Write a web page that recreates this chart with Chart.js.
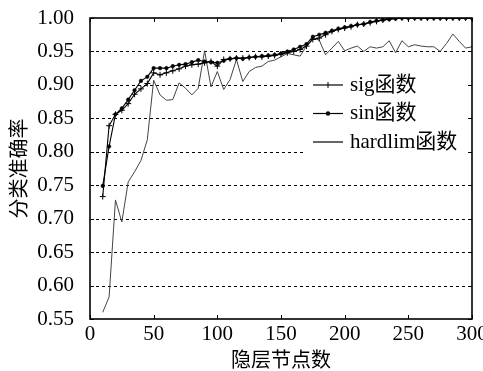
<!DOCTYPE html>
<html>
<head>
<meta charset="utf-8">
<script src="https://cdn.jsdelivr.net/npm/chart.js@4.4.0/dist/chart.umd.min.js"></script>
<style>
  html, body { margin: 0; padding: 0; background: #fff; }
</style>
</head>
<body>
<canvas id="chart" width="483" height="371"></canvas>
<script>
// hidden layer node counts
const nodes = [10, 15, 20, 25, 30, 35, 40, 45, 50, 55, 60, 65, 70, 75, 80, 85, 90, 95, 100,
  105, 110, 115, 120, 125, 130, 135, 140, 145, 150, 155, 160, 165, 170, 175, 180, 185, 190, 195, 200,
  205, 210, 215, 220, 225, 230, 235, 240, 245, 250, 255, 260, 265, 270, 275, 280, 285, 290, 295, 300];

const sigAcc = [0.733, 0.839, 0.856, 0.862, 0.872, 0.886, 0.894, 0.902, 0.918, 0.915, 0.918, 0.921, 0.924, 0.928, 0.930, 0.931, 0.933, 0.935, 0.928,
  0.938, 0.939, 0.940, 0.940, 0.941, 0.942, 0.942, 0.943, 0.944, 0.946, 0.948, 0.950, 0.953, 0.958, 0.968, 0.970, 0.975, 0.980, 0.983, 0.985,
  0.987, 0.990, 0.991, 0.993, 0.995, 0.997, 0.999, 1.000, 1.000, 1.000, 1.000, 1.000, 1.000, 1.000, 1.000, 1.000, 1.000, 1.000, 1.000, 1.000];

const sinAcc = [0.749, 0.808, 0.856, 0.865, 0.878, 0.892, 0.906, 0.912, 0.925, 0.925, 0.925, 0.928, 0.930, 0.931, 0.934, 0.937, 0.935, 0.934, 0.933,
  0.936, 0.939, 0.940, 0.939, 0.941, 0.942, 0.943, 0.944, 0.945, 0.947, 0.950, 0.953, 0.957, 0.961, 0.972, 0.975, 0.978, 0.981, 0.984, 0.986,
  0.988, 0.990, 0.991, 0.994, 0.996, 0.997, 0.998, 0.999, 1.000, 1.000, 1.000, 1.000, 1.000, 1.000, 1.000, 1.000, 1.000, 1.000, 1.000, 1.000];

const hardlimAcc = [0.560, 0.583, 0.728, 0.695, 0.755, 0.770, 0.787, 0.818, 0.907, 0.885, 0.877, 0.878, 0.903, 0.895, 0.885, 0.895, 0.951, 0.897, 0.920,
  0.893, 0.908, 0.938, 0.905, 0.920, 0.926, 0.928, 0.935, 0.937, 0.942, 0.947, 0.945, 0.943, 0.958, 0.970, 0.967, 0.945, 0.955, 0.965, 0.951,
  0.955, 0.958, 0.950, 0.957, 0.955, 0.957, 0.966, 0.948, 0.966, 0.957, 0.960, 0.958, 0.957, 0.957, 0.950, 0.962, 0.976, 0.965, 0.955, 0.957];

const seriesNames = ['sig函数', 'sin函数', 'hardlim函数'];
const yTicks = [0.55, 0.60, 0.65, 0.70, 0.75, 0.80, 0.85, 0.90, 0.95, 1.00];
const xTicks = [0, 50, 100, 150, 200, 250, 300];

const serif = "'Liberation Serif', 'Noto Sans CJK SC', serif";
const cjk = "'Noto Sans CJK SC', sans-serif";

function toPoints(vals) {
  return nodes.map((n, i) => ({ x: n, y: vals[i] }));
}

// dashed horizontal grid, drawn under the lines
const gridPlugin = {
  id: 'dashgrid',
  beforeDatasetsDraw(chart) {
    const ctx = chart.ctx;
    const { left, right } = chart.chartArea;
    const ys = chart.scales.y;
    ctx.save();
    ctx.strokeStyle = '#000';
    ctx.lineWidth = 1;
    ctx.setLineDash([3, 3]);
    ctx.beginPath();
    yTicks.slice(1, -1).forEach(v => {
      const py = Math.round(ys.getPixelForValue(v)) + 0.5;
      ctx.moveTo(left, py);
      ctx.lineTo(right, py);
    });
    ctx.stroke();
    ctx.restore();
  }
};

// frame, inward ticks and the boxed legend
const framePlugin = {
  id: 'frame',
  afterDraw(chart) {
    const ctx = chart.ctx;
    const { left, right, top, bottom } = chart.chartArea;
    const xs = chart.scales.x, ys = chart.scales.y;
    ctx.save();

    // legend
    ctx.fillStyle = '#fff';
    ctx.fillRect(305, 70, right - 305 - 1, 90);
    const rows = [85, 113.5, 142];
    ctx.strokeStyle = '#000';
    ctx.fillStyle = '#000';
    rows.forEach((ry, i) => {
      ctx.lineWidth = 1.2;
      ctx.beginPath();
      ctx.moveTo(313, ry);
      ctx.lineTo(343, ry);
      ctx.stroke();
      if (i === 0) {
        ctx.lineWidth = 1;
        ctx.beginPath();
        ctx.moveTo(328, ry - 3); ctx.lineTo(328, ry + 3);
        ctx.stroke();
      } else if (i === 1) {
        ctx.beginPath();
        ctx.arc(328, ry, 2.2, 0, Math.PI * 2);
        ctx.fill();
      }
      ctx.font = '21px ' + serif;
      ctx.textBaseline = 'middle';
      ctx.textAlign = 'left';
      ctx.fillText(seriesNames[i], 350, ry);
    });

    // ticks pointing inward
    ctx.strokeStyle = '#000';
    ctx.lineWidth = 1;
    ctx.beginPath();
    yTicks.forEach(v => {
      const py = Math.round(ys.getPixelForValue(v)) + 0.5;
      ctx.moveTo(left, py); ctx.lineTo(left + 4, py);
      ctx.moveTo(right, py); ctx.lineTo(right - 4, py);
    });
    xTicks.forEach(v => {
      const px = Math.round(xs.getPixelForValue(v)) + 0.5;
      ctx.moveTo(px, bottom); ctx.lineTo(px, bottom - 4);
      ctx.moveTo(px, top); ctx.lineTo(px, top + 4);
    });
    ctx.stroke();

    // box
    ctx.lineWidth = 1.6;
    ctx.strokeRect(left, top, right - left, bottom - top);
    ctx.restore();
  }
};

const ctx = document.getElementById('chart').getContext('2d');
window.myChart = new Chart(ctx, {
  type: 'line',
  data: {
    datasets: [
      {
        label: seriesNames[0],
        data: toPoints(sigAcc),
        borderColor: '#000',
        borderWidth: 1.1,
        pointStyle: 'cross',
        pointRadius: 3,
        pointBorderColor: '#000',
        pointBorderWidth: 1,
        tension: 0
      },
      {
        label: seriesNames[1],
        data: toPoints(sinAcc),
        borderColor: '#000',
        borderWidth: 1.1,
        pointStyle: 'circle',
        pointRadius: 1.8,
        pointBackgroundColor: '#000',
        pointBorderColor: '#000',
        pointBorderWidth: 0.5,
        tension: 0
      },
      {
        label: seriesNames[2],
        data: toPoints(hardlimAcc),
        borderColor: '#444',
        borderWidth: 1,
        pointRadius: 0,
        tension: 0
      }
    ]
  },
  options: {
    responsive: false,
    animation: false,
    devicePixelRatio: 1,
    layout: { padding: { top: 18, right: 11, left: 0, bottom: 0 } },
    plugins: {
      legend: { display: false },
      tooltip: { enabled: false }
    },
    scales: {
      x: {
        type: 'linear',
        min: 0,
        max: 300,
        afterBuildTicks: s => { s.ticks = xTicks.map(v => ({ value: v })); },
        grid: { display: false },
        border: { display: false },
        ticks: {
          color: '#000',
          padding: -5,
          maxRotation: 0,
          font: { family: serif, size: 21 },
          callback: v => String(v)
        },
        title: {
          display: true,
          text: '隐层节点数',
          color: '#000',
          font: { family: cjk, size: 20 },
          padding: { top: 0, bottom: 0 }
        },
        afterFit: s => { s.height = 52; s.paddingLeft = 0; s.paddingRight = 0; }
      },
      y: {
        min: 0.55,
        max: 1.0,
        afterBuildTicks: s => { s.ticks = yTicks.map(v => ({ value: v })); },
        grid: { display: false },
        border: { display: false },
        ticks: {
          color: '#000',
          padding: 8,
          font: { family: serif, size: 21 },
          callback: v => v.toFixed(2)
        },
        title: {
          display: true,
          text: '分类准确率',
          color: '#000',
          font: { family: cjk, size: 20 },
          padding: { top: 6, bottom: 0 }
        },
        afterFit: s => { s.width = 90; s.paddingTop = 0; s.paddingBottom = 0; }
      }
    }
  },
  plugins: [gridPlugin, framePlugin]
});
</script>
</body>
</html>
